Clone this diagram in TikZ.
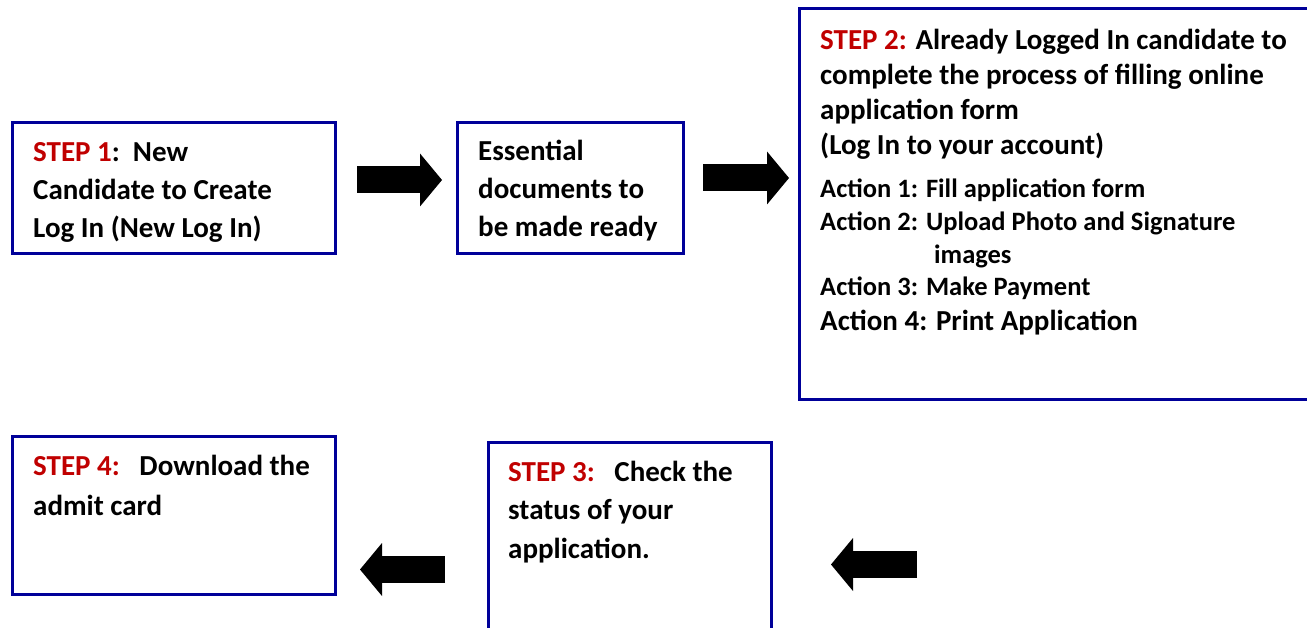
\documentclass[tikz,border=0pt]{standalone}
\usepackage{fontspec}
\setmainfont{Carlito}
\usepackage{xcolor}
\usetikzlibrary{arrows.meta}
\definecolor{boxblue}{RGB}{0,0,153}
\definecolor{stepred}{RGB}{192,0,0}
\newcommand{\steplbl}[1]{\textcolor{stepred}{#1}}

\begin{document}
\begin{tikzpicture}[x=1pt,y=-1pt,
	box/.style={draw=boxblue,line width=3pt,anchor=north west,inner sep=0pt,outer sep=0pt},
	txt/.style={anchor=base west,align=left,inner sep=0pt,font=\bfseries\fontsize{29}{38}\selectfont},
	bigarrow/.style={line width=27pt,-{Triangle[length=22pt,width=53pt,line width=0pt]}}]
	\clip (0,0) rectangle (1307,628);
	\node[box,minimum width=323pt,minimum height=131pt] (box1) at (12.5,122.5) {};
	\node[box,minimum width=226pt,minimum height=131pt] (box2) at (457.5,122.5) {};
	\node[box,minimum width=540pt,minimum height=391pt] (box3) at (799.5,8.5) {};
	\node[box,minimum width=323pt,minimum height=158pt] (box4) at (12.5,436.5) {};
	\node[box,minimum width=283pt,minimum height=200pt] (box5) at (488.5,442.5) {};
	\node[txt] (step1) at ([xshift=20.5pt,yshift=-115.5pt]box1.north west)
		{\steplbl{STEP 1}:\ \ New\\Candidate to Create\\Log In (New Log In)};
	\node[txt] (docs) at ([xshift=20.5pt,yshift=-114.5pt]box2.north west)
		{Essential\\documents to\\be made ready};
	\node[txt,font=\bfseries\fontsize{29}{35.3}\selectfont] (step2) at ([xshift=20.5pt,yshift=-146.5pt]box3.north west)
		{\steplbl{STEP 2:} Already Logged In candidate to\\complete the process of filling online\\application form\\(Log In to your account)};
	\node[txt,font=\bfseries\fontsize{26.5}{32.7}\selectfont] (acts) at ([xshift=20.5pt,yshift=-287.5pt]box3.north west)
		{Action 1: Fill application form\\Action 2: Upload Photo and Signature\\\hspace*{114pt}images\\Action 3: Make Payment};
	\node[txt,font=\bfseries\fontsize{29}{35}\selectfont] (act4) at ([xshift=20.5pt,yshift=-322.5pt]box3.north west)
		{Action 4: Print Application};
	\node[txt,font=\bfseries\fontsize{29}{40}\selectfont] (step4) at ([xshift=20.5pt,yshift=-78.5pt]box4.north west)
		{\steplbl{STEP 4:}\ \ \ Download the\\admit card};
	\node[txt,font=\bfseries\fontsize{29}{38.5}\selectfont] (step3) at ([xshift=19.5pt,yshift=-115.5pt]box5.north west)
		{\steplbl{STEP 3:}\ \ \ Check the\\status of your\\application.};
	\coordinate (s3in) at (917,564.5);
	\draw[bigarrow] ([xshift=21.5pt,yshift=8pt]box1.east) -- ([xshift=-15.5pt,yshift=8pt]box2.west);
	\draw[bigarrow] ([xshift=19.5pt,yshift=10pt]box2.east) -- ([xshift=-10.5pt,yshift=26pt]box3.west);
	\draw[bigarrow] (s3in) -- ([xshift=59.5pt,yshift=-22pt]box5.east);
	\draw[bigarrow] ([xshift=-43.5pt,yshift=-27pt]box5.west) -- ([xshift=24.5pt,yshift=-54pt]box4.east);
\end{tikzpicture}
\end{document}
